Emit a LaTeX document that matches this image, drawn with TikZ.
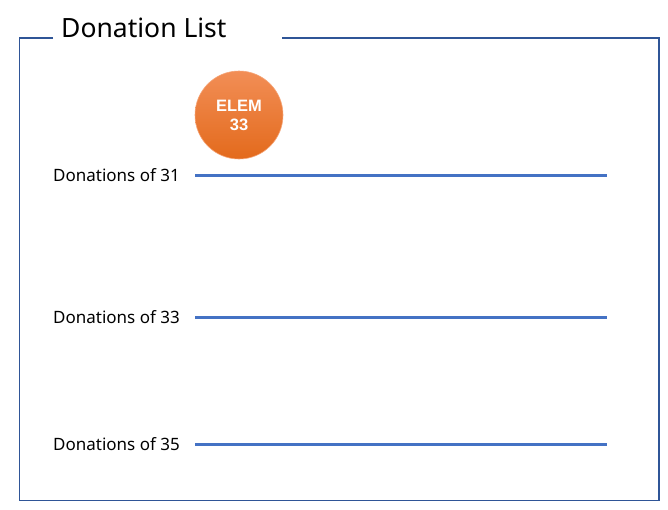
\documentclass[tikz,border=0pt]{standalone}
\usepackage{fontspec}
\setmainfont{Noto Sans}
\newfontfamily\elemfont{Liberation Sans}
\definecolor{framecol}{HTML}{2F5597}
\definecolor{linecol}{HTML}{4472C4}
\definecolor{orangetop}{HTML}{F28E56}
\definecolor{orangebot}{HTML}{E36A1C}
\tikzset{
  donlabel/.style={anchor=east, inner sep=0pt, font=\fontsize{17}{19}\selectfont},
  donline/.style={draw=linecol, line width=3pt},
  elem/.style={circle, minimum size=88pt, inner sep=0pt, top color=orangetop, bottom color=orangebot, draw=orangetop!80!white, line width=0.6pt, text=white, align=center, font=\elemfont\bfseries\fontsize{16.5}{19}\selectfont}
}
\begin{document}
\begin{tikzpicture}[x=1pt, y=-1pt]
\useasboundingbox (0,0) rectangle (668,509);
% frame with gap for the title
\draw[framecol, line width=1.2pt] (53,38) -- (19.5,38) -- (19.5,500.5) -- (659,500.5) -- (659,38) -- (282,38);
\node[anchor=base west, inner sep=0pt, font=\fontsize{26.5}{30}\selectfont] (title) at (61,37) {Donation List};
\node[elem] (e33) at (239,115) {ELEM\\33};
% donation rows
\foreach \n/\y in {31/175, 33/317, 35/444}{
  \node[donlabel] (lab\n) at (180,\y) {Donations of \n};
  \coordinate (s\n) at (195,\y);
  \coordinate (t\n) at (607,\y);
  \draw[donline] (s\n) -- (t\n);
}
\end{tikzpicture}
\end{document}
